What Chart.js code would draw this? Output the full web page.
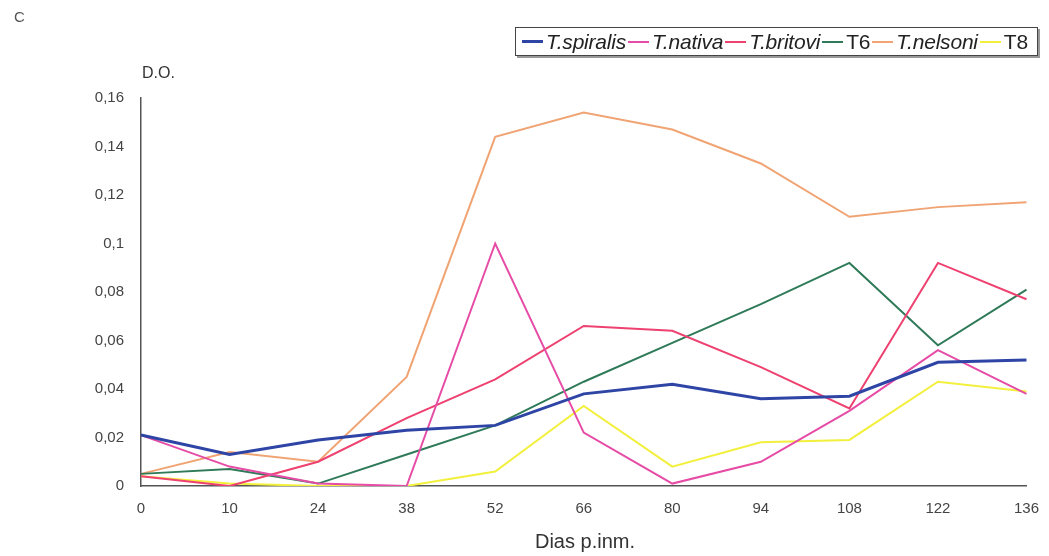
<!DOCTYPE html>
<html>
<head>
<meta charset="utf-8">
<script src="https://cdn.jsdelivr.net/npm/chart.js@4.4.0/dist/chart.umd.min.js"></script>
<style>
  html, body { margin: 0; padding: 0; background: #fff; }
  body { width: 1049px; height: 556px; position: relative; overflow: hidden; font-family: "Liberation Sans", Arial, sans-serif; color: #333; }
  #wrap { position: absolute; left: 0; top: 0; width: 1049px; height: 556px; }
  .panel { position: absolute; left: 14px; top: 8px; font-size: 15px; color: #555; }
  .ytitle { position: absolute; left: 142px; top: 64px; font-size: 16px; color: #333; }
  .xtitle { position: absolute; left: 0; width: 1170px; text-align: center; top: 530px; font-size: 20px; color: #333; }
  #legend { position: absolute; left: 515px; top: 27px; width: 523px; height: 29px; border: 1px solid #444; box-shadow: 2px 2px 0 #999; display: flex; align-items: center; padding-left: 4px; box-sizing: border-box; font-size: 21px; color: #222; white-space: nowrap; letter-spacing: -0.2px; }
  #legend .sw { display: inline-block; width: 21px; height: 0; margin: 0 3px 0 2px; vertical-align: middle; }
  #legend .it { font-style: italic; }
</style>
</head>
<body>
<div id="wrap"><canvas id="chart" width="1049" height="556"></canvas></div>
<div class="panel">C</div>
<div class="ytitle">D.O.</div>
<div class="xtitle">Dias p.inm.</div>
<div id="legend"></div>
<script>
// Data
const days = ['0', '10', '24', '38', '52', '66', '80', '94', '108', '122', '136'];
const yTickLabels = ['0', '0,02', '0,04', '0,06', '0,08', '0,1', '0,12', '0,14', '0,16'];

const spiralis = [0.021, 0.013, 0.019, 0.023, 0.025, 0.038, 0.042, 0.036, 0.037, 0.051, 0.052];
const nativa   = [0.021, 0.008, 0.001, 0.000, 0.100, 0.022, 0.001, 0.010, 0.031, 0.056, 0.038];
const britovi  = [0.004, 0.000, 0.010, 0.028, 0.044, 0.066, 0.064, 0.049, 0.032, 0.092, 0.077];
const t6       = [0.005, 0.007, 0.001, 0.013, 0.025, 0.043, 0.059, 0.075, 0.092, 0.058, 0.081];
const nelsoni  = [0.005, 0.014, 0.010, 0.045, 0.144, 0.154, 0.147, 0.133, 0.111, 0.115, 0.117];
const t8       = [0.004, 0.001, 0.000, 0.000, 0.006, 0.033, 0.008, 0.018, 0.019, 0.043, 0.039];

const series = [
  { label: 'T.spiralis', data: spiralis, color: '#2f45a6', width: 3, italic: true },
  { label: 'T.nativa',   data: nativa,   color: '#e64ca6', width: 2, italic: true },
  { label: 'T.britovi',  data: britovi,  color: '#ee4170', width: 2, italic: true },
  { label: 'T6',         data: t6,       color: '#2f7a58', width: 2, italic: false },
  { label: 'T.nelsoni',  data: nelsoni,  color: '#f0a474', width: 2, italic: true },
  { label: 'T8',         data: t8,       color: '#f2f03c', width: 2, italic: false }
];

// HTML legend (mixed italic / upright names)
const legend = document.getElementById('legend');
series.forEach(s => {
  const sw = document.createElement('span');
  sw.className = 'sw';
  sw.style.borderTop = s.width + 'px solid ' + s.color;
  const tx = document.createElement('span');
  tx.textContent = s.label;
  if (s.italic) tx.className = 'it';
  legend.appendChild(sw);
  legend.appendChild(tx);
});

const ctx = document.getElementById('chart').getContext('2d');

new Chart(ctx, {
  type: 'line',
  data: {
    labels: days,
    datasets: series.map(s => ({
      label: s.label,
      data: s.data,
      borderColor: s.color,
      backgroundColor: s.color,
      borderWidth: s.width,
      pointRadius: 0,
      tension: 0,
      fill: false
    }))
  },
  options: {
    responsive: false,
    animation: false,
    layout: { padding: { top: 98, right: 18, bottom: 0, left: 0 } },
    plugins: {
      legend: { display: false },
      tooltip: { enabled: false }
    },
    scales: {
      x: {
        offset: false,
        grid: { display: false, drawTicks: true, tickLength: 4 },
        border: { display: true, color: '#555', width: 1.5 },
        ticks: {
          color: '#444',
          padding: 10,
          maxRotation: 0,
          autoSkip: false,
          font: { family: 'Liberation Sans, Arial', size: 15 }
        },
        afterFit: (scale) => { scale.height = 70; }
      },
      y: {
        min: 0,
        max: 0.16,
        grid: { display: false },
        border: { display: true, color: '#555', width: 1.5 },
        ticks: {
          stepSize: 0.02,
          color: '#444',
          padding: 9,
          font: { family: 'Liberation Sans, Arial', size: 15 },
          callback: function(value, index) { return yTickLabels[index]; }
        },
        afterFit: (scale) => { scale.width = 141; }
      }
    }
  }
});
</script>
</body>
</html>
